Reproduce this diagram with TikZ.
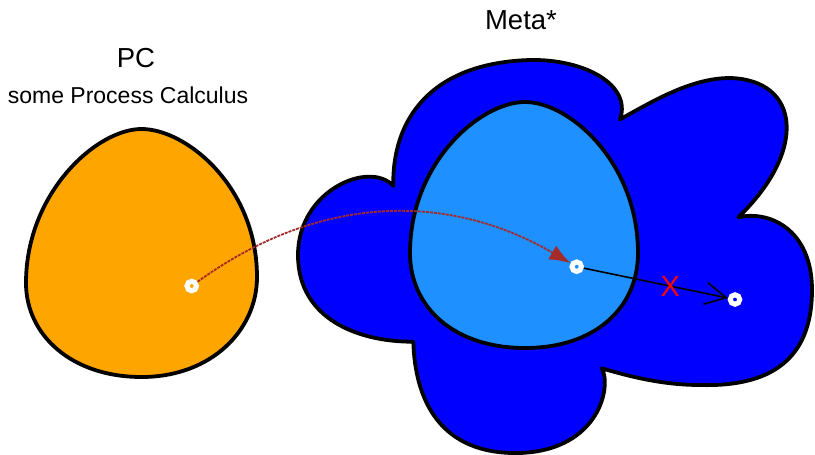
\documentclass[tikz,border=0pt]{standalone}
\usepackage{fontspec}
\setmainfont{Liberation Sans}
\usetikzlibrary{arrows.meta}
\definecolor{pcorange}{HTML}{FFA500}
\definecolor{metablue}{HTML}{0000FF}
\definecolor{innerblue}{HTML}{1E90FF}
\definecolor{arrbrown}{HTML}{A52A2A}
\begin{document}
\begin{tikzpicture}[x=1pt,y=-1pt,
  region/.style={draw=black,line width=3.8pt,line join=round},
  dot/.style={circle,draw=white,line width=5pt,minimum size=9.5pt,inner sep=0pt},
  title/.style={font=\fontsize{27.5}{33}\selectfont,anchor=base,inner sep=0pt},
  subtitle/.style={font=\fontsize{23}{28}\selectfont,anchor=base,inner sep=0pt},
  embed/.style={draw=arrbrown,line width=1.8pt,dash pattern=on 3pt off 1pt,
    -{Latex[length=21pt,width=16pt]}},
  noreach/.style={draw=black,line width=1.6pt,-{Straight Barb[length=21pt,width=22pt,line width=1.6pt]}},
  cross/.style={text=red,font=\fontsize{29}{32}\selectfont,inner sep=0pt}]
\useasboundingbox (0,0) rectangle (815,455);
% outer Meta* blob
\path[region,fill=metablue]
  (393.3,186) .. controls (392,120) and (430,63) .. (530,60)
  .. controls (585,59) and (632,85) .. (620,119.3)
  .. controls (650,103) and (690,78) .. (730,78)
  .. controls (800,80) and (808,150) .. (738.3,217.3)
  .. controls (770,210) and (812,230) .. (812,290)
  .. controls (812,360) and (770,387) .. (700,385)
  .. controls (660,385) and (625,375) .. (601.7,368.3)
  .. controls (612,385) and (600,450) .. (520,453)
  .. controls (440,455) and (415,400) .. (413.3,341.7)
  .. controls (360,342) and (298,320) .. (298,255)
  .. controls (298,190) and (370,160) .. (393.3,186) -- cycle;
% inner egg
\path[region,fill=innerblue] (525,102) .. controls (570,102) and (638,163) .. (638,253)
  .. controls (638,308) and (595,348) .. (525,348)
  .. controls (455,348) and (410,308) .. (410,253)
  .. controls (410,163) and (480,102) .. (525,102) -- cycle;
% PC egg
\path[region,fill=pcorange] (141.5,129) .. controls (186.5,129) and (257,187) .. (257,277)
  .. controls (257,330) and (211.5,377) .. (141.5,377)
  .. controls (71.5,377) and (26,335) .. (26,283)
  .. controls (26,193) and (96.5,129) .. (141.5,129) -- cycle;
% labels
\node[title] (pc) at (136,67) {PC};
\node[subtitle] (pcsub) at (128,103.5) {some Process Calculus};
\node[title] (meta) at (521,29.3) {Meta*};
% points
\node[dot] (src) at (191.7,286) {};
\node[dot] (mid) at (576.7,266.7) {};
\node[dot] (tgt) at (735,299.5) {};
% connectors
\draw[embed] (src) to[bend left=33] (mid);
\draw[noreach] (mid) -- node[cross,pos=0.6] (x) {X} (tgt);
\end{tikzpicture}
\end{document}
